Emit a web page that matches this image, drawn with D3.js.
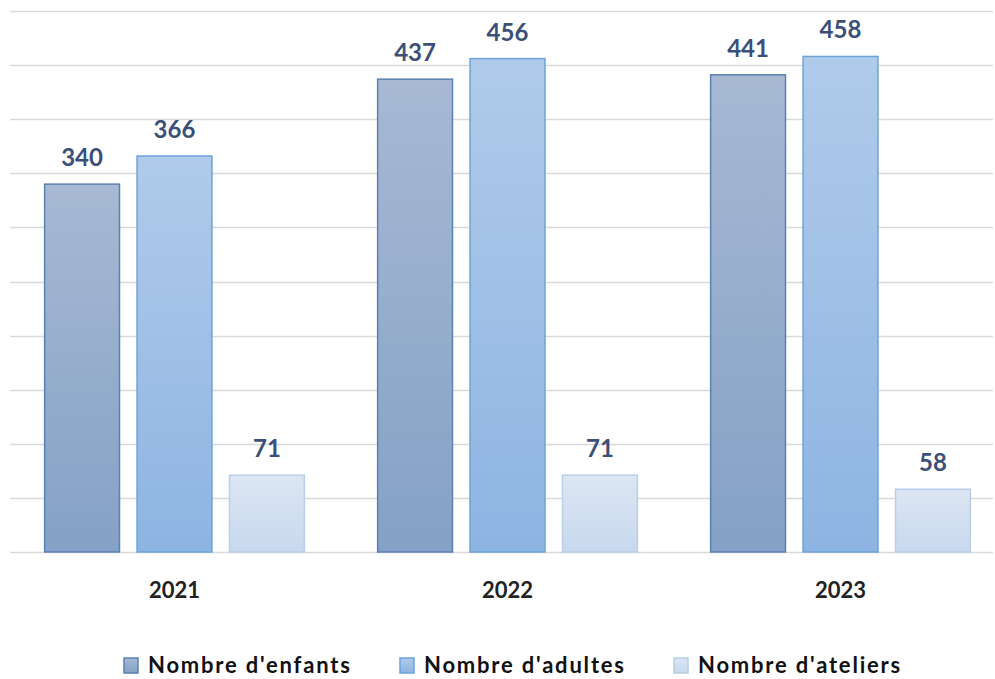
<!DOCTYPE html>
<html>
<head>
<meta charset="utf-8">
<script src="https://cdn.jsdelivr.net/npm/d3@7"></script>
<style>
  body { margin: 0; background: #fff; }
  text { font-family: Lato, "Open Sans", sans-serif; }
</style>
</head>
<body>
<div id="chart"></div>
<script>
var width = 995,
    height = 679;

var years = ["2021", "2022", "2023"];
var series = ["Nombre d'enfants", "Nombre d'adultes", "Nombre d'ateliers"];
var enfants = [340, 437, 441];
var adultes = [366, 456, 458];
var ateliers = [71, 71, 58];
var yTicks = [0, 50, 100, 150, 200, 250, 300, 350, 400, 450, 500];

var values = [enfants, adultes, ateliers];
var fillTop = ["#a7b9d3", "#b0cbea", "#dce6f3"],
    fillBottom = ["#84a1c6", "#8db4e2", "#c8d8ee"],
    strokes = ["#5b81b2", "#6da2d9", "#b9cee9"];

var data = years.map(function(y, i) {
  return { year: y, vals: series.map(function(s, j) { return { key: j, value: values[j][i] }; }) };
});

var x0 = d3.scaleBand().domain(years).range([8, 1007]).paddingInner(0.22).paddingOuter(0.11);
var x1 = d3.scaleBand().domain([0, 1, 2]).range([0, x0.bandwidth()]).paddingInner(0.19);
var y = d3.scaleLinear().domain([0, 500]).range([552, 11]);

var svg = d3.select("#chart").append("svg")
    .attr("width", width)
    .attr("height", height);

var defs = svg.append("defs");
series.forEach(function(s, j) {
  var g = defs.append("linearGradient")
      .attr("id", "grad" + j)
      .attr("x1", 0).attr("y1", 0).attr("x2", 0).attr("y2", 1);
  g.append("stop").attr("offset", "0%").attr("stop-color", fillTop[j]);
  g.append("stop").attr("offset", "100%").attr("stop-color", fillBottom[j]);
});

// gridlines
svg.append("g")
  .selectAll("line")
  .data(yTicks)
  .enter().append("line")
    .attr("x1", 10)
    .attr("x2", 993)
    .attr("y1", function(d) { return Math.round(y(d)) + 0.5; })
    .attr("y2", function(d) { return Math.round(y(d)) + 0.5; })
    .attr("stroke", "#d9d9d9")
    .attr("stroke-width", 1.5);

var groups = svg.append("g")
  .selectAll("g")
  .data(data)
  .enter().append("g")
    .attr("transform", function(d) { return "translate(" + x0(d.year) + ",0)"; });

groups.selectAll("rect")
  .data(function(d) { return d.vals; })
  .enter().append("rect")
    .attr("x", function(d) { return x1(d.key); })
    .attr("y", function(d) { return y(d.value); })
    .attr("width", x1.bandwidth())
    .attr("height", function(d) { return y(0) - y(d.value); })
    .attr("fill", function(d) { return "url(#grad" + d.key + ")"; })
    .attr("stroke", function(d) { return strokes[d.key]; })
    .attr("stroke-width", 1.5);

groups.selectAll("text.val")
  .data(function(d) { return d.vals; })
  .enter().append("text")
    .attr("class", "val")
    .attr("x", function(d) { return x1(d.key) + x1.bandwidth() / 2; })
    .attr("y", function(d) { return y(d.value) - 18; })
    .attr("text-anchor", "middle")
    .attr("fill", "#3b4f78")
    .attr("font-weight", "bold")
    .attr("font-size", 24)
    .text(function(d) { return d.value; });

// x axis labels
svg.append("g")
  .selectAll("text")
  .data(years)
  .enter().append("text")
    .attr("x", function(d) { return x0(d) + x0.bandwidth() / 2; })
    .attr("y", 598)
    .attr("text-anchor", "middle")
    .attr("fill", "#222")
    .attr("font-weight", "bold")
    .attr("font-size", 22)
    .text(function(d) { return d; });

// legend
var legendX = [124, 400, 674];
var legend = svg.append("g")
  .selectAll("g")
  .data(series)
  .enter().append("g")
    .attr("transform", function(d, i) { return "translate(" + legendX[i] + ",658)"; });

legend.append("rect")
  .attr("width", 14)
  .attr("height", 15)
  .attr("fill", function(d, i) { return "url(#grad" + i + ")"; })
  .attr("stroke", function(d, i) { return strokes[i]; })
  .attr("stroke-width", 1.5);

legend.append("text")
  .attr("x", 24)
  .attr("y", 15)
  .attr("fill", "#111")
  .attr("font-weight", "bold")
  .attr("font-size", 22)
  .attr("letter-spacing", 1.8)
  .text(function(d) { return d; });
</script>
</body>
</html>
